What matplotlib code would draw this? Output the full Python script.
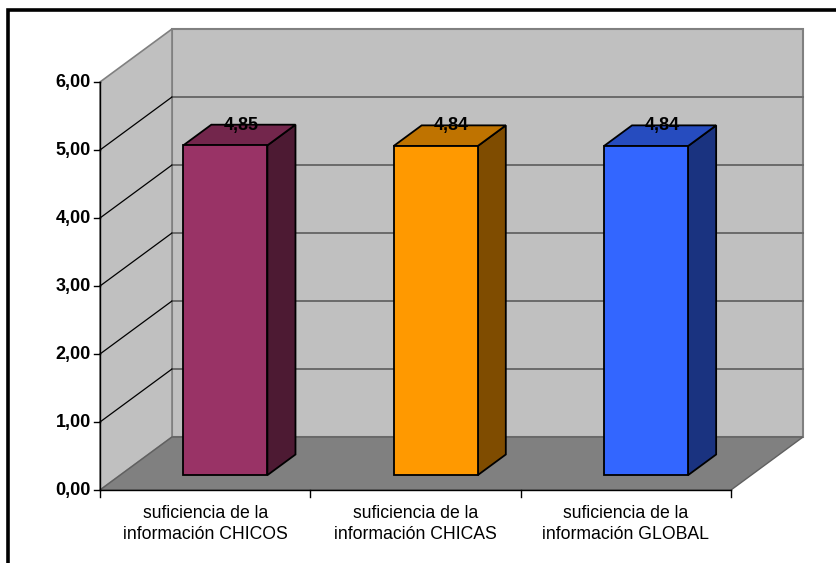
import matplotlib.pyplot as plt
from matplotlib.patches import Polygon

plt.rcParams["font.family"] = ["Liberation Sans", "DejaVu Sans"]

categories = [
    "suficiencia de la\ninformación CHICOS",
    "suficiencia de la\ninformación CHICAS",
    "suficiencia de la\ninformación GLOBAL",
]
values = [4.85, 4.84, 4.84]
value_labels = ["4,85", "4,84", "4,84"]
y_ticks = [0, 1, 2, 3, 4, 5, 6]
y_tick_labels = ["0,00", "1,00", "2,00", "3,00", "4,00", "5,00", "6,00"]

front_colors = ["#993366", "#FF9900", "#3366FF"]
top_colors = ["#73264C", "#BF7300", "#264CBF"]
side_colors = ["#4D1A33", "#7F4C00", "#1A3380"]

# oblique projection of (category, value, depth) into pixel space
X_LEFT, X_RIGHT, Y_ZERO = 100, 731, 490
PX_PER_UNIT = 68
DEPTH_DX, DEPTH_DY = 72, -53
N = len(categories)


def proj(u, v, d):
    x = X_LEFT + u * (X_RIGHT - X_LEFT) / N + d * DEPTH_DX
    y = Y_ZERO - v * PX_PER_UNIT + d * DEPTH_DY
    return (x, y)


fig = plt.figure(figsize=(8.37, 5.63), dpi=100)
ax = fig.add_axes([0, 0, 1, 1])
ax.set_xlim(0, 837)
ax.set_ylim(563, 0)
ax.axis("off")

vmax = y_ticks[-1]
wall = "#C0C0C0"
edge = "#808080"

# walls and floor
back = [proj(0, 0, 1), proj(N, 0, 1), proj(N, vmax, 1), proj(0, vmax, 1)]
side = [proj(0, 0, 0), proj(0, vmax, 0), proj(0, vmax, 1), proj(0, 0, 1)]
floor = [proj(0, 0, 0), proj(N, 0, 0), proj(N, 0, 1), proj(0, 0, 1)]
ax.add_patch(Polygon(back, closed=True, fc=wall, ec=edge, lw=1.5, zorder=1))
ax.add_patch(Polygon(side, closed=True, fc=wall, ec=edge, lw=1.2, zorder=1))
ax.add_patch(Polygon(floor, closed=True, fc="#808080", ec="#606060", lw=1.0, zorder=1))

# gridlines on the back wall and side wall
for t in y_ticks[1:-1]:
    (xa, ya), (xb, yb) = proj(0, t, 1), proj(N, t, 1)
    ax.plot([xa, xb], [ya, yb], color="#6A6A6A", lw=1.4, zorder=2)
    (xa, ya), (xb, yb) = proj(0, t, 0), proj(0, t, 1)
    ax.plot([xa, xb], [ya, yb], color="black", lw=0.9, zorder=2)

# bars
half_w = 0.2
d0, d1 = 0.28, 0.67
for i, v in enumerate(values):
    c = i + 0.5
    l, r = c - half_w, c + half_w
    front = [proj(l, 0, d0), proj(r, 0, d0), proj(r, v, d0), proj(l, v, d0)]
    top = [proj(l, v, d0), proj(r, v, d0), proj(r, v, d1), proj(l, v, d1)]
    right = [proj(r, 0, d0), proj(r, 0, d1), proj(r, v, d1), proj(r, v, d0)]
    ax.add_patch(Polygon(right, closed=True, fc=side_colors[i], ec="black", lw=1.3, zorder=3))
    ax.add_patch(Polygon(top, closed=True, fc=top_colors[i], ec="black", lw=1.3, zorder=3))
    ax.add_patch(Polygon(front, closed=True, fc=front_colors[i], ec="black", lw=1.3, zorder=3))
    lx, ly = proj(c, v, (d0 + d1) / 2)
    bx, by = proj(c, v, d1)
    ax.text(lx + 2, by + 5, value_labels[i], ha="center", va="baseline",
            fontsize=13, fontweight="bold", color="black", zorder=5)

# value axis
(xa, ya), (xb, yb) = proj(0, 0, 0), proj(0, vmax, 0)
ax.plot([xa, xb], [ya, yb], color="black", lw=1.0, zorder=4)
for t, lab in zip(y_ticks, y_tick_labels):
    x, y = proj(0, t, 0)
    ax.plot([x - 6, x], [y, y], color="black", lw=1.0, zorder=4)
    ax.text(x - 9, y, lab, ha="right", va="center", fontsize=13,
            fontweight="bold", color="black")

# category axis
(xa, ya), (xb, yb) = proj(0, 0, 0), proj(N, 0, 0)
ax.plot([xa, xb], [ya, yb], color="black", lw=1.0, zorder=4)
for k in range(N + 1):
    x, y = proj(k, 0, 0)
    ax.plot([x, x], [y, y + 7], color="black", lw=1.0, zorder=4)
for i, lab in enumerate(categories):
    x, y = proj(i + 0.5, 0, 0)
    ax.text(x, y + 34, lab, ha="center", va="center", fontsize=12.7,
            color="black", linespacing=1.35)

# chart border
ax.plot([8, 8, 840], [570, 10, 10], color="black", lw=2.6, zorder=6,
        solid_joinstyle="miter", clip_on=False)

fig.savefig("out.png", dpi=100)
